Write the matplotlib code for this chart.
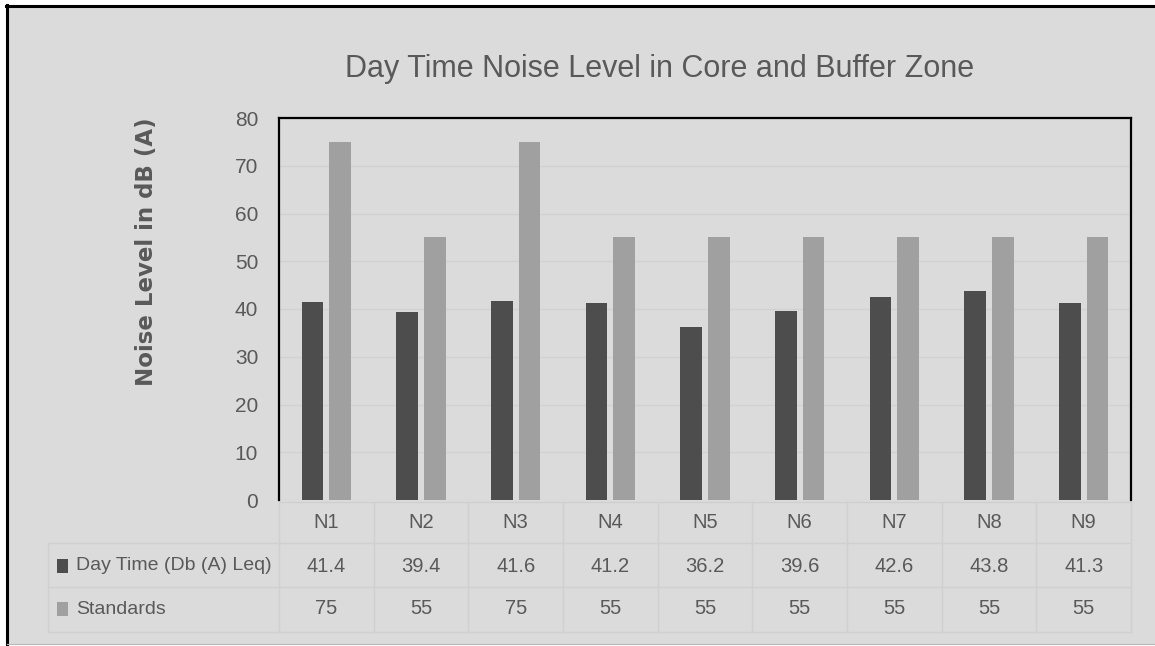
import matplotlib
matplotlib.use('Agg')
import matplotlib.pyplot as plt
import numpy as np
from matplotlib.transforms import blended_transform_factory
from matplotlib.patches import Rectangle
from matplotlib.lines import Line2D

# ---- data ----
categories = ['N1', 'N2', 'N3', 'N4', 'N5', 'N6', 'N7', 'N8', 'N9']
day_time = [41.4, 39.4, 41.6, 41.2, 36.2, 39.6, 42.6, 43.8, 41.3]
standards = [75, 55, 75, 55, 55, 55, 55, 55, 55]
series_names = ['Day Time (Db (A) Leq)', 'Standards']
yticks = [0, 10, 20, 30, 40, 50, 60, 70, 80]
title = 'Day Time Noise Level in Core and Buffer Zone'
ylabel = 'Noise Level in dB (A)'

# ---- style ----
W, H = 1155, 646
FONT = 'Liberation Sans'
TXT = '#595959'
BG = '#DBDBDB'
C_DARK = '#4D4D4D'
C_LIGHT = '#A0A0A0'
GRID = '#D1D1D1'
TSIZE = 14.5


def fx(px):
    return px / W


def fy(py):
    return 1 - py / H


fig = plt.figure(figsize=(W / 100, H / 100), dpi=100, facecolor='white')

# chart area background and frame
fig.patches.append(Rectangle((fx(7), fy(644)), 1 - fx(7), fy(6) - fy(644),
                             transform=fig.transFigure, facecolor=BG,
                             edgecolor='none', zorder=-10))
fig.add_artist(Line2D([fx(6), 1], [fy(6), fy(6)], color='black', lw=2.2))
fig.add_artist(Line2D([fx(7), fx(7)], [fy(5), fy(644)], color='black', lw=2.2))
fig.add_artist(Line2D([fx(7), 1], [fy(644), fy(644)], color='#B8B8B8', lw=0.8))

# ---- plot area ----
ax = fig.add_axes([fx(279), fy(500), fx(1131) - fx(279), fy(118) - fy(500)])
ax.set_zorder(2)
ax.set_facecolor(BG)
x = np.arange(len(categories))
bw = 0.229
gap = 0.063
off = (bw + gap) / 2
ax.bar(x - off, day_time, bw, color=C_DARK, zorder=3, label=series_names[0])
ax.bar(x + off, standards, bw, color=C_LIGHT, zorder=3, label=series_names[1])
ax.set_xlim(-0.5, len(categories) - 0.5)
ax.set_ylim(0, 80)
ax.set_yticks(yticks)
ax.set_xticks([])
ax.yaxis.grid(True, color=GRID, lw=1.0)
ax.set_axisbelow(True)
ax.tick_params(axis='y', length=0, pad=15, labelsize=15, labelcolor=TXT)
for lbl in ax.get_yticklabels():
    lbl.set_family(FONT)
for s in ['left', 'top', 'right']:
    ax.spines[s].set_color('black')
    ax.spines[s].set_linewidth(1.6)
ax.spines['bottom'].set_visible(False)

# ---- title and y label ----
fig.text(fx(660), fy(77), title, ha='center', va='baseline', fontsize=22,
         color=TXT, family=FONT)
fig.text(fx(146), fy(252), ylabel, rotation=90, ha='center', va='center',
         fontsize=16.5, fontweight='bold', color=TXT, family='DejaVu Sans')

# ---- data table ----
tr = blended_transform_factory(ax.transData, fig.transFigure)
row_edges = [502, 543, 587, 632]
row_centers = [523, 566, 609]
LINE = '#D0D0D0'
xmin, xmax = -0.5, len(categories) - 0.5
for ypx in row_edges:
    fig.add_artist(Line2D([xmin, xmax], [fy(ypx), fy(ypx)], transform=tr,
                          color=LINE, lw=1.0))
for k in range(len(categories) + 1):
    xv = xmin + k
    fig.add_artist(Line2D([xv, xv], [fy(row_edges[0]), fy(row_edges[-1])],
                          transform=tr, color=LINE, lw=1.0))
# label column borders
for ypx in row_edges[1:]:
    fig.add_artist(Line2D([fx(48), fx(279)], [fy(ypx), fy(ypx)], color=LINE, lw=1.0))
fig.add_artist(Line2D([fx(48), fx(48)], [fy(row_edges[1]), fy(row_edges[-1])],
                      color=LINE, lw=1.0))

for i, c in enumerate(categories):
    fig.text(i, fy(row_centers[0]), c, transform=tr, ha='center', va='center',
             fontsize=TSIZE, color=TXT, family=FONT)
    fig.text(i, fy(row_centers[1]), f'{day_time[i]:g}', transform=tr,
             ha='center', va='center', fontsize=TSIZE, color=TXT, family=FONT)
    fig.text(i, fy(row_centers[2]), f'{standards[i]:g}', transform=tr,
             ha='center', va='center', fontsize=TSIZE, color=TXT, family=FONT)

for name, col, yc in zip(series_names, [C_DARK, C_LIGHT], row_centers[1:]):
    fig.patches.append(Rectangle((fx(57), fy(yc + 7)), fx(11), fy(0) - fy(14),
                                 transform=fig.transFigure, facecolor=col,
                                 edgecolor='none'))
    fig.text(fx(76), fy(yc), name, ha='left', va='center', fontsize=TSIZE - 0.5,
             color=TXT, family=FONT)

fig.savefig('out.png', dpi=100, facecolor='white')
